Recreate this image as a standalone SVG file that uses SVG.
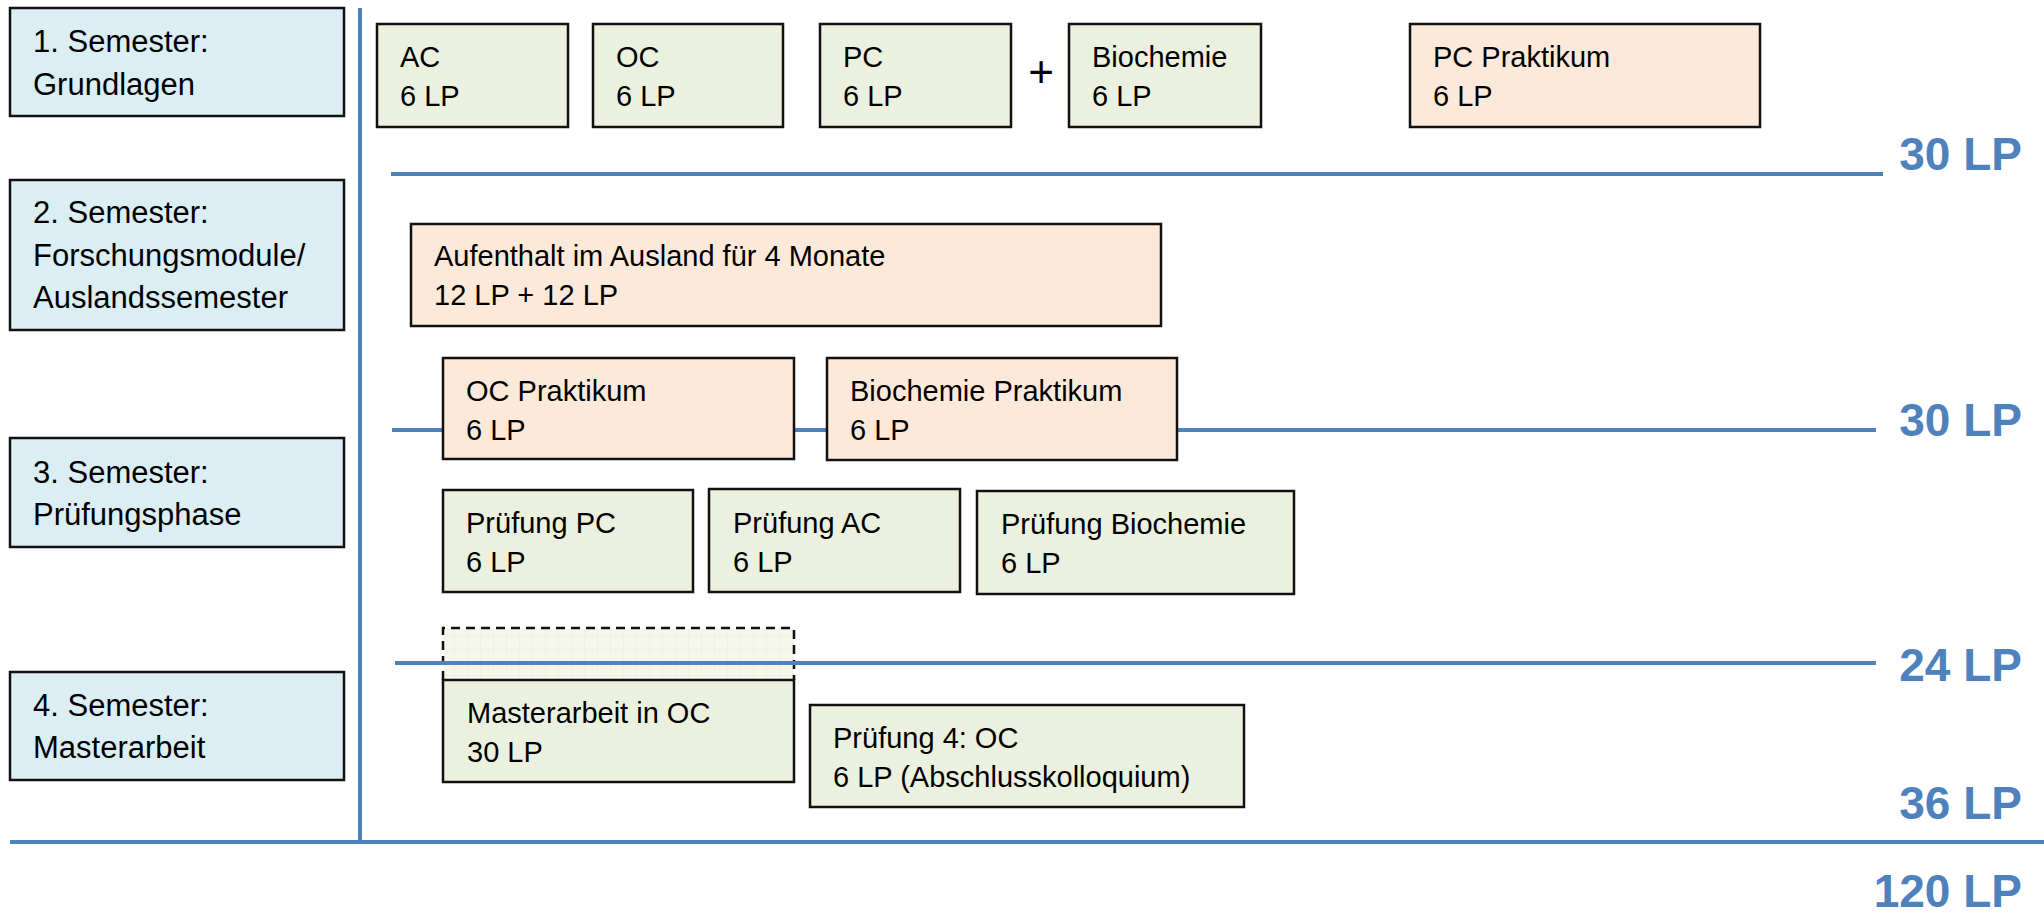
<svg xmlns="http://www.w3.org/2000/svg" width="2044" height="918" viewBox="0 0 2044 918">
<style>
.sem{fill:#DBEEF3;stroke:#111;stroke-width:2.5}
.grn{fill:#EBF1DE;stroke:#111;stroke-width:2.5}
.org{fill:#FDE9D9;stroke:#111;stroke-width:2.5}
.st{font-family:"Liberation Sans",Arial,sans-serif;font-size:31px;fill:#000}
.mt{font-family:"Liberation Sans",Arial,sans-serif;font-size:29px;fill:#000}
.lp{font-family:"Liberation Sans",Arial,sans-serif;font-size:46px;font-weight:bold;fill:#4F81BD;text-anchor:end}
.ln{stroke:#4F81BD;stroke-width:4;fill:none}
</style>
<defs>
<pattern id="grid" width="13" height="13" patternUnits="userSpaceOnUse">
<rect width="13" height="13" fill="#F5F7EC"/>
<path d="M13 0V13M0 13H13" stroke="#E9EEDB" stroke-width="1"/>
</pattern>
</defs>
<rect width="2044" height="918" fill="#fff"/>

<g id="sem1"><rect class="sem" x="10" y="8" width="334" height="108"/><text class="st" x="33" y="52">1. Semester:</text><text class="st" x="33" y="95">Grundlagen</text></g>
<g id="sem2"><rect class="sem" x="10" y="180" width="334" height="150"/><text class="st" x="33" y="223">2. Semester:</text><text class="st" x="33" y="266">Forschungsmodule/</text><text class="st" x="33" y="308">Auslandssemester</text></g>
<g id="sem3"><rect class="sem" x="10" y="438" width="334" height="109"/><text class="st" x="33" y="483">3. Semester:</text><text class="st" x="33" y="525">Prüfungsphase</text></g>
<g id="sem4"><rect class="sem" x="10" y="672" width="334" height="108"/><text class="st" x="33" y="716">4. Semester:</text><text class="st" x="33" y="758">Masterarbeit</text></g>

<g id="placeholder"><path d="M443 680V628H794V680" fill="url(#grid)" stroke="#111" stroke-width="2.5" stroke-dasharray="9,6"/></g>

<g id="connectors">
<line class="ln" x1="360" y1="8" x2="360" y2="842"/>
<line class="ln" x1="391" y1="174" x2="1883" y2="174"/>
<line class="ln" x1="392" y1="430" x2="1876" y2="430"/>
<line class="ln" x1="395" y1="663" x2="1876" y2="663"/>
<line class="ln" x1="10" y1="842" x2="2044" y2="842"/>
</g>

<g id="ac"><rect class="grn" x="377" y="24" width="191" height="103"/><text class="mt" x="400" y="67">AC</text><text class="mt" x="400" y="106">6 LP</text></g>
<g id="oc"><rect class="grn" x="593" y="24" width="190" height="103"/><text class="mt" x="616" y="67">OC</text><text class="mt" x="616" y="106">6 LP</text></g>
<g id="pc"><rect class="grn" x="820" y="24" width="191" height="103"/><text class="mt" x="843" y="67">PC</text><text class="mt" x="843" y="106">6 LP</text></g>
<g id="plus"><text x="1041" y="87" font-family="Liberation Sans,Arial,sans-serif" font-size="44" text-anchor="middle" fill="#000">+</text></g>
<g id="bio"><rect class="grn" x="1069" y="24" width="192" height="103"/><text class="mt" x="1092" y="67">Biochemie</text><text class="mt" x="1092" y="106">6 LP</text></g>
<g id="pcprak"><rect class="org" x="1410" y="24" width="350" height="103"/><text class="mt" x="1433" y="67">PC Praktikum</text><text class="mt" x="1433" y="106">6 LP</text></g>

<g id="ausland"><rect class="org" x="411" y="224" width="750" height="102"/><text class="mt" x="434" y="266">Aufenthalt im Ausland für 4 Monate</text><text class="mt" x="434" y="305">12 LP + 12 LP</text></g>

<g id="ocprak"><rect class="org" x="443" y="358" width="351" height="101"/><text class="mt" x="466" y="401">OC Praktikum</text><text class="mt" x="466" y="440">6 LP</text></g>
<g id="bioprak"><rect class="org" x="827" y="358" width="350" height="102"/><text class="mt" x="850" y="401">Biochemie Praktikum</text><text class="mt" x="850" y="440">6 LP</text></g>

<g id="ppc"><rect class="grn" x="443" y="490" width="250" height="102"/><text class="mt" x="466" y="533">Prüfung PC</text><text class="mt" x="466" y="572">6 LP</text></g>
<g id="pac"><rect class="grn" x="709" y="489" width="251" height="103"/><text class="mt" x="733" y="533">Prüfung AC</text><text class="mt" x="733" y="572">6 LP</text></g>
<g id="pbio"><rect class="grn" x="977" y="491" width="317" height="103"/><text class="mt" x="1001" y="534">Prüfung Biochemie</text><text class="mt" x="1001" y="573">6 LP</text></g>

<g id="master"><rect class="grn" x="443" y="680" width="351" height="102"/><text class="mt" x="467" y="723">Masterarbeit in OC</text><text class="mt" x="467" y="762">30 LP</text></g>
<g id="p4"><rect class="grn" x="810" y="705" width="434" height="102"/><text class="mt" x="833" y="748">Prüfung 4: OC</text><text class="mt" x="833" y="787">6 LP (Abschlusskolloquium)</text></g>

<g id="totals">
<text class="lp" x="2022" y="170">30 LP</text>
<text class="lp" x="2022" y="436">30 LP</text>
<text class="lp" x="2022" y="681">24 LP</text>
<text class="lp" x="2022" y="819">36 LP</text>
<text class="lp" x="2022" y="907">120 LP</text>
</g>
</svg>
